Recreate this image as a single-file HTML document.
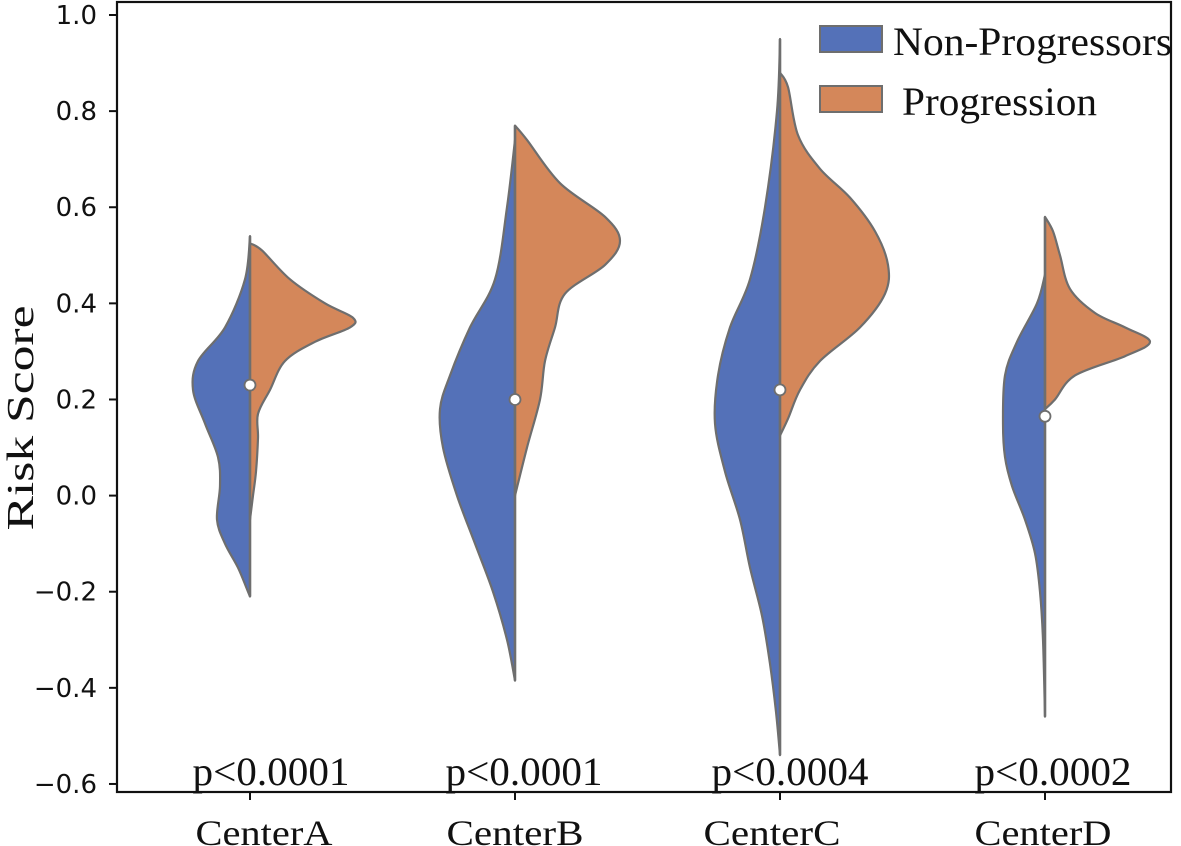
<!DOCTYPE html>
<html><head><meta charset="utf-8"><style>
html,body{margin:0;padding:0;background:#fff;}
svg{display:block;}
.tick{font-family:"DejaVu Sans","Liberation Sans",sans-serif;font-size:26px;fill:#111;}
.serif{font-family:"Liberation Serif",serif;fill:#111;}
</style></head><body>
<svg id="chart" width="1181" height="846" viewBox="0 0 1181 846">
<g id="plot"></g>
</svg>
<script>
const categories = ["CenterA","CenterB","CenterC","CenterD"];
const pValues = ["p<0.0001","p<0.0001","p<0.0004","p<0.0002"];
const yTicks = [1.0,0.8,0.6,0.4,0.2,0.0,-0.2,-0.4,-0.6];
const medians = [0.23,0.20,0.22,0.165];
// density profiles: [value, half-width(px)]
const nonProgA = [[0.54,0],[0.45,5],[0.35,25],[0.28,52],[0.22,57],[0.15,45],[0.08,32],[0.02,30],[-0.05,33],[-0.10,25],[-0.15,12],[-0.20,2],[-0.21,0]];
const progA = [[0.525,0],[0.51,12],[0.45,40],[0.40,75],[0.37,103],[0.35,100],[0.32,65],[0.28,35],[0.22,20],[0.17,8],[0.12,8],[0.05,6],[0.0,3],[-0.05,0]];
const nonProgB = [[0.74,0],[0.6,8],[0.45,20],[0.35,45],[0.25,65],[0.18,75],[0.1,72],[0.0,58],[-0.1,40],[-0.2,22],[-0.3,8],[-0.385,0]];
const progB = [[0.77,0],[0.74,12],[0.65,45],[0.58,90],[0.53,105],[0.48,90],[0.42,50],[0.35,40],[0.28,30],[0.2,25],[0.1,12],[0.0,0]];
const nonProgC = [[0.95,0],[0.8,3],[0.6,15],[0.45,30],[0.35,50],[0.25,62],[0.15,65],[0.05,55],[-0.05,40],[-0.15,30],[-0.25,18],[-0.35,10],[-0.45,4],[-0.54,0]];
const progC = [[0.88,0],[0.85,8],[0.75,18],[0.68,40],[0.62,70],[0.55,95],[0.48,108],[0.42,105],[0.35,80],[0.28,40],[0.22,20],[0.16,8],[0.125,0]];
const nonProgD = [[0.46,0],[0.4,8],[0.32,28],[0.25,40],[0.15,42],[0.08,40],[0.02,33],[-0.05,20],[-0.12,10],[-0.2,5],[-0.3,2],[-0.46,0]];
const progD = [[0.58,0],[0.55,8],[0.5,15],[0.43,25],[0.38,50],[0.35,80],[0.32,105],[0.29,80],[0.25,30],[0.2,10],[0.18,0]];
const nonProg = [nonProgA,nonProgB,nonProgC,nonProgD];
const prog = [progA,progB,progC,progD];

const NS="http://www.w3.org/2000/svg";
const svg=document.getElementById('plot');
const X0=117,X1=1171,YT=2,YB=792;
const pShift=[21,9,10,8], labShift=[14,0,-8,-2];
function yScale(v){return 15+(1-v)*480.6;}
function xScale(i){return 250+i*265;}
function mk(tag,attrs,parent){const e=document.createElementNS(NS,tag);for(const k in attrs)e.setAttribute(k,attrs[k]);(parent||svg).appendChild(e);return e;}
function smooth(pts){
  let d="M"+pts[0][0]+","+pts[0][1];
  for(let i=0;i<pts.length-1;i++){
    const p0=pts[i-1]||pts[i],p1=pts[i],p2=pts[i+1],p3=pts[i+2]||p2;
    const c1=[p1[0]+(p2[0]-p0[0])/6,p1[1]+(p2[1]-p0[1])/6];
    const c2=[p2[0]-(p3[0]-p1[0])/6,p2[1]-(p3[1]-p1[1])/6];
    d+=" C"+c1[0]+","+c1[1]+" "+c2[0]+","+c2[1]+" "+p2[0]+","+p2[1];
  }
  return d;
}
categories.forEach((c,i)=>{
  const cx=xScale(i);
  [[nonProg[i],-1,'#5471b8','non-progressors'],[prog[i],1,'#d4875a','progression']].forEach(([arr,s,col,nm])=>{
    const pts=arr.map(p=>[cx+s*p[1],yScale(p[0])]);
    const d=smooth(pts)+" Z";
    const p=mk('path',{d:d,fill:col,stroke:'#6e6e6e','stroke-width':2.2,'stroke-linejoin':'round'});
    
    
  });
  const allTop=Math.max(nonProg[i][0][0],prog[i][0][0]);
  const allBot=Math.min(nonProg[i][nonProg[i].length-1][0],prog[i][prog[i].length-1][0]);
  const ln=mk('line',{x1:cx,x2:cx,y1:yScale(allTop),y2:yScale(allBot),stroke:'#6e6e6e','stroke-width':2.5});
  
  
  const m=mk('circle',{cx:cx,cy:yScale(medians[i]),r:5.5,fill:'#fff',stroke:'#6e6e6e','stroke-width':1.8});
  
  
  const t=mk('text',{x:cx+pShift[i],y:785,'text-anchor':'middle','font-size':40,class:'serif',textLength:157,lengthAdjust:'spacingAndGlyphs'});
  t.textContent=pValues[i];
  
  
  const tk=mk('line',{x1:cx,x2:cx,y1:YB,y2:YB+8,stroke:'#111','stroke-width':2});
  
  
  const cl=mk('text',{x:cx+labShift[i],y:845,'text-anchor':'middle','font-size':36,class:'serif',textLength:137,lengthAdjust:'spacingAndGlyphs'});
  cl.textContent=c;
  
  
});
yTicks.forEach(v=>{
  const y=yScale(v);
  const l=mk('line',{x1:X0-8,x2:X0,y1:y,y2:y,stroke:'#111','stroke-width':2});
  
  
  const t=mk('text',{x:X0-20,y:y+9,'text-anchor':'end',class:'tick'});
  t.textContent=(v<0?'\u2212':'')+Math.abs(v).toFixed(1);
  
  
});
const fr=mk('rect',{x:X0,y:YT,width:X1-X0,height:YB-YT,fill:'none',stroke:'#111','stroke-width':2.2});


const yl=mk('text',{x:0,y:0,transform:'translate(33,418) rotate(-90)','text-anchor':'middle','font-size':38,class:'serif',textLength:225,lengthAdjust:'spacingAndGlyphs'});
yl.textContent='Risk  Score';


const legend=[['Non-Progressors','#5471b8',26,893,279],['Progression','#d4875a',86,902,195]];
legend.forEach(([n,c,y,tx,w])=>{
  const r=mk('rect',{x:820,y:y,width:62,height:26,fill:c,stroke:'#6e6e6e','stroke-width':2});
  
  
  const t=mk('text',{x:tx,y:y+29,'font-size':40,class:'serif',textLength:w,lengthAdjust:'spacingAndGlyphs'});
  t.textContent=n;
  
  
});
</script>
</body></html>
